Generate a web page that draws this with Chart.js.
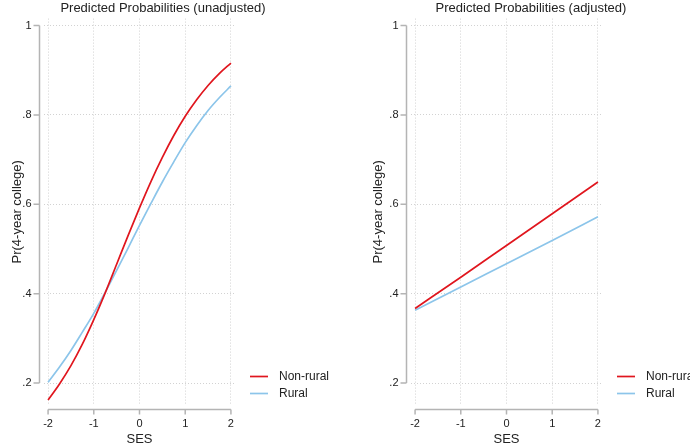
<!DOCTYPE html>
<html>
<head>
<meta charset="utf-8">
<script src="https://cdn.jsdelivr.net/npm/chart.js@4.4.1/dist/chart.umd.min.js"></script>
<style>
  html, body { margin: 0; padding: 0; background: #fff; }
  #wrap { position: relative; width: 690px; height: 446px; }
  .panel { position: absolute; top: 0; width: 345px; height: 446px; }
</style>
</head>
<body>
<div id="wrap">
  <div class="panel" style="left:0"><canvas id="cUnadj" width="345" height="446"></canvas></div>
  <div class="panel" style="left:345px"><canvas id="cAdj" width="345" height="446"></canvas></div>
</div>
<script>
/* ── DATA ─────────────────────────────────────────────── */
const seriesNames = ['Non-rural', 'Rural'];
const seriesColors = ['#e0161e', '#8cc5ea'];

const sesUnadj = [-2, -1.75, -1.5, -1.25, -1, -0.75, -0.5, -0.25, 0, 0.25, 0.5, 0.75, 1, 1.25, 1.5, 1.75, 2];
const nonRuralUnadj = [.162, .198, .239, .287, .342, .402, .466, .530, .592, .651, .705, .754, .797, .834, .866, .893, .916];
const ruralUnadj    = [.202, .236, .273, .314, .356, .403, .452, .502, .553, .602, .650, .695, .738, .776, .810, .839, .865];

const sesAdj = [-2, -1, 0, 1, 2];
const nonRuralAdj = [.367, .437, .508, .579, .650];
const ruralAdj    = [.363, .415, .467, .519, .572];

const xTicks = [-2, -1, 0, 1, 2];
const yTicks = [0.2, 0.4, 0.6, 0.8, 1];
const yTickLabels = ['.2', '.4', '.6', '.8', '1'];

const FONT = "'Liberation Sans', Arial, sans-serif";
const TXT = '#222';

/* ── AXES / TITLE / LEGEND (stata look) ───────────────── */
const stataBits = {
    id: 'stataBits',
    afterDraw(chart, args, o) {
        const { ctx, chartArea: a, scales: { x, y } } = chart;
        ctx.save();
        ctx.strokeStyle = '#b4b4b4';
        ctx.lineWidth = 1.5;
        ctx.beginPath();
        /* y axis, only over tick range */
        const ax = a.left - 4;
        ctx.moveTo(ax, y.getPixelForValue(yTicks[yTicks.length - 1]));
        ctx.lineTo(ax, y.getPixelForValue(yTicks[0]));
        yTicks.forEach(v => {
            const py = y.getPixelForValue(v);
            ctx.moveTo(ax, py); ctx.lineTo(ax - 6, py);
        });
        /* x axis */
        const ay = a.bottom + 4.5;
        ctx.moveTo(x.getPixelForValue(xTicks[0]), ay);
        ctx.lineTo(x.getPixelForValue(xTicks[xTicks.length - 1]), ay);
        xTicks.forEach(v => {
            const px = x.getPixelForValue(v);
            ctx.moveTo(px, ay); ctx.lineTo(px, ay + 5);
        });
        ctx.stroke();

        /* title */
        ctx.fillStyle = TXT;
        ctx.font = `13px ${FONT}`;
        ctx.textAlign = 'center';
        ctx.textBaseline = 'alphabetic';
        ctx.fillText(o.title, o.titleX, 11.5);

        /* legend */
        ctx.font = `12px ${FONT}`;
        ctx.textAlign = 'left';
        ctx.textBaseline = 'middle';
        chart.data.datasets.forEach((ds, i) => {
            const ly = o.legendY + i * 17;
            ctx.strokeStyle = ds.borderColor;
            ctx.lineWidth = 1.7;
            ctx.beginPath();
            ctx.moveTo(o.legendX, ly);
            ctx.lineTo(o.legendX + 18, ly);
            ctx.stroke();
            ctx.fillStyle = TXT;
            ctx.fillText(ds.label, o.legendX + 29, ly + 0.5);
        });
        ctx.restore();
    }
};

function makePanel(id, xs, seriesList, p) {
    const datasets = seriesList.map((vals, i) => ({
        label: seriesNames[i],
        data: xs.map((v, j) => ({ x: v, y: vals[j] })),
        borderColor: seriesColors[i],
        backgroundColor: seriesColors[i],
        borderWidth: 1.7,
        pointRadius: 0,
        cubicInterpolationMode: 'monotone',
        fill: false
    }));
    const gridOpts = { color: '#d2d2d2', lineWidth: 1, drawTicks: false };
    return new Chart(document.getElementById(id).getContext('2d'), {
        type: 'line',
        data: { datasets },
        options: {
            responsive: false,
            animation: false,
            layout: { padding: { top: 17, right: p.padRight, bottom: 0, left: 0 } },
            plugins: {
                legend: { display: false },
                tooltip: { enabled: false },
                stataBits: { title: p.title, titleX: p.titleX, legendX: p.legendX, legendY: 376.5 }
            },
            scales: {
                x: {
                    type: 'linear',
                    min: -2.1, max: 2.1,
                    afterBuildTicks: s => { s.ticks = xTicks.map(v => ({ value: v })); },
                    afterFit: s => { s.height = 41; },
                    grid: gridOpts,
                    border: { display: false, dash: [1, 2] },
                    ticks: { color: TXT, font: { family: FONT, size: 11 }, padding: 12, maxRotation: 0,
                             callback: v => String(v) },
                    title: { display: true, text: 'SES', color: TXT,
                             font: { family: FONT, size: 13, lineHeight: 1 }, padding: 0 }
                },
                y: {
                    type: 'linear',
                    min: 0.151, max: 1.0156,
                    afterBuildTicks: s => { s.ticks = yTicks.map(v => ({ value: v })); },
                    afterFit: s => { s.width = p.yWidth; },
                    grid: gridOpts,
                    border: { display: false, dash: [1, 2] },
                    ticks: { color: TXT, font: { family: FONT, size: 11 }, padding: 12,
                             callback: (v, i) => yTickLabels[i] },
                    title: { display: true, text: 'Pr(4-year college)', color: TXT,
                             font: { family: FONT, size: 13, lineHeight: 1 }, padding: p.yTitlePad }
                }
            }
        },
        plugins: [stataBits]
    });
}

makePanel('cUnadj', sesUnadj, [nonRuralUnadj, ruralUnadj], {
    title: 'Predicted Probabilities (unadjusted)', titleX: 163,
    padRight: 109.5, yWidth: 43.5, yTitlePad: 11, legendX: 250
});
makePanel('cAdj', sesAdj, [nonRuralAdj, ruralAdj], {
    title: 'Predicted Probabilities (adjusted)', titleX: 186,
    padRight: 87.5, yWidth: 65.5, yTitlePad: 26.5, legendX: 272
});
</script>
</body>
</html>
